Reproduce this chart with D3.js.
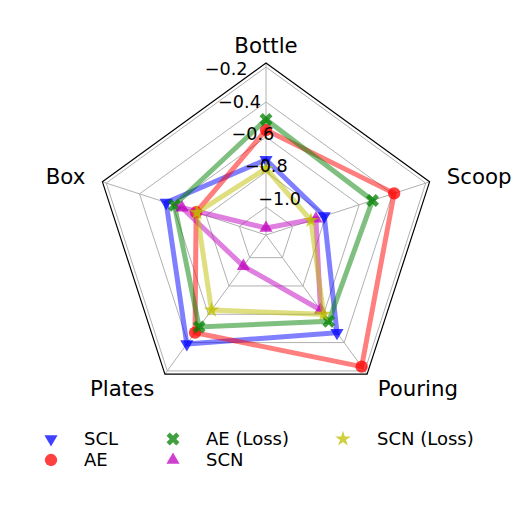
<!DOCTYPE html>
<html>
<head>
<meta charset="utf-8">
<script src="https://cdn.jsdelivr.net/npm/d3@7"></script>
<style>
  body { margin: 0; background: #fff; }
  text { font-family: "DejaVu Sans", sans-serif; }
</style>
</head>
<body>
<svg class="radar" width="524" height="506"></svg>
<script>
// data
var categories = ["Bottle", "Scoop", "Pouring", "Plates", "Box"];
var tickValues = [-0.2, -0.4, -0.6, -0.8, -1.0];
var seriesNames = ["SCL", "AE", "AE (Loss)", "SCN", "SCN (Loss)"];
var scl = [-0.73, -0.81, -0.47, -0.39, -0.56];
var ae = [-0.56, -0.39, -0.23, -0.47, -0.74];
var aeLoss = [-0.50, -0.52, -0.55, -0.51, -0.61];
var scn = [-1.12, -0.86, -0.63, -0.94, -0.655];
var scnLoss = [-0.78, -0.89, -0.60, -0.63, -0.745];

var allSeries = [scl, ae, aeLoss, scn, scnLoss];
var colors = ["#0000ff", "#ff0000", "#008000", "#bf00bf", "#bfbf00"];

var cx = 266, cy = 235, R = 172;

var svg = d3.select(".radar");

var r = d3.scaleLinear()
    .domain([-1.16, -0.177])
    .range([0, R]);

var angle = d3.scaleLinear()
    .domain([0, categories.length])
    .range([0, 2 * Math.PI]);

function pt(i, rad) {
    var a = angle(i);
    return [cx + rad * Math.sin(a), cy - rad * Math.cos(a)];
}

// gridlines (pentagons)
svg.selectAll(".grid")
    .data(tickValues)
    .enter().append("polygon")
    .attr("class", "grid")
    .attr("points", function (v) {
        return categories.map(function (c, i) { return pt(i, r(v)).join(","); }).join(" ");
    })
    .attr("fill", "none")
    .attr("stroke", "#b0b0b0")
    .attr("stroke-width", 1);

// spokes
svg.selectAll(".spoke")
    .data(categories)
    .enter().append("line")
    .attr("class", "spoke")
    .attr("x1", cx).attr("y1", cy)
    .attr("x2", function (d, i) { return pt(i, R)[0]; })
    .attr("y2", function (d, i) { return pt(i, R)[1]; })
    .attr("stroke", "#b0b0b0")
    .attr("stroke-width", 1);

// frame
svg.append("polygon")
    .attr("points", categories.map(function (c, i) { return pt(i, R).join(","); }).join(" "))
    .attr("fill", "none")
    .attr("stroke", "#000")
    .attr("stroke-width", 1.2);

// series lines
var line = d3.line()
    .x(function (d) { return pt(d.i, r(d.v))[0]; })
    .y(function (d) { return pt(d.i, r(d.v))[1]; })
    .curve(d3.curveLinearClosed);

function markerPath(k) {
    if (k === 0) return d3.symbol().type(d3.symbolTriangle).size(75)();
    if (k === 1) return d3.symbol().type(d3.symbolCircle).size(120)();
    if (k === 2) return d3.symbol().type(d3.symbolCross).size(105)();
    if (k === 3) return d3.symbol().type(d3.symbolTriangle).size(75)();
    return d3.symbol().type(d3.symbolStar).size(75)();
}
function markerRot(k) {
    if (k === 0) return 180;
    if (k === 2) return 45;
    return 0;
}

allSeries.forEach(function (vals, k) {
    var pts = vals.map(function (v, i) { return { i: i, v: v }; });
    var g = svg.append("g");
    g.append("path")
        .attr("d", line(pts))
        .attr("fill", "none")
        .attr("stroke", colors[k])
        .attr("stroke-opacity", 0.5)
        .attr("stroke-width", 5)
        .attr("stroke-linejoin", "miter");
    g.selectAll(".mk")
        .data(pts)
        .enter().append("path")
        .attr("class", "mk")
        .attr("d", markerPath(k))
        .attr("transform", function (d) {
            var p = pt(d.i, r(d.v));
            return "translate(" + p[0] + "," + p[1] + ") rotate(" + markerRot(k) + ")";
        })
        .attr("fill", colors[k])
        .attr("fill-opacity", 0.75);
});

// radial tick labels at 22.5 deg left of top
var labA = -22.5 * Math.PI / 180;
svg.selectAll(".rtick")
    .data(tickValues)
    .enter().append("text")
    .attr("class", "rtick")
    .attr("x", function (v) { return cx + r(v) * Math.sin(labA) + 3; })
    .attr("y", function (v) { return cy - r(v) * Math.cos(labA) - 4.5; })
    .attr("font-size", "17.6px")
    .attr("fill", "#000")
    .text(function (v) { return d3.format(".1f")(v).replace("-", "\u2212"); });

// category labels
svg.selectAll(".cat")
    .data(categories)
    .enter().append("text")
    .attr("class", "cat")
    .attr("x", function (d, i) { return pt(i, 190)[0]; })
    .attr("y", function (d, i) { return pt(i, 190)[1]; })
    .attr("dy", "0.36em")
    .attr("text-anchor", function (d, i) {
        var x = pt(i, 190)[0] - cx;
        return Math.abs(x) < 1 ? "middle" : (x > 0 ? "start" : "end");
    })
    .attr("font-size", "21.3px")
    .attr("fill", "#000")
    .text(function (d) { return d; });

// legend, 3 columns filled column by column
var legX = [51, 173, 343], legTextX = [84, 206, 377], legY = [439, 460];
var legend = svg.selectAll(".leg")
    .data(seriesNames)
    .enter().append("g")
    .attr("class", "leg");
legend.append("path")
    .attr("d", function (d, k) { return markerPath(k); })
    .attr("transform", function (d, k) {
        return "translate(" + legX[Math.floor(k / 2)] + "," + legY[k % 2] + ") rotate(" + markerRot(k) + ")";
    })
    .attr("fill", function (d, k) { return colors[k]; })
    .attr("fill-opacity", 0.75);
legend.append("text")
    .attr("x", function (d, k) { return legTextX[Math.floor(k / 2)]; })
    .attr("y", function (d, k) { return legY[k % 2]; })
    .attr("dy", "0.36em")
    .attr("font-size", "18px")
    .attr("fill", "#000")
    .text(function (d) { return d; });
</script>
</body>
</html>
